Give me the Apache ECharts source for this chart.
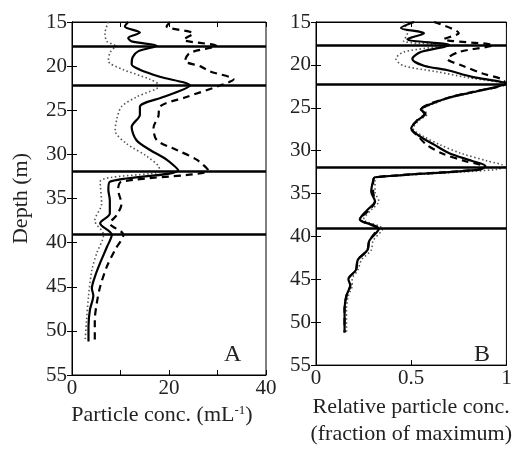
<!DOCTYPE html>
<html><head><meta charset="utf-8">
<script src="https://cdn.jsdelivr.net/npm/echarts@6/dist/echarts.min.js"></script>
<style>html,body{margin:0;padding:0;background:#fff}#c{width:515px;height:453px}</style>
</head><body><div id="c"></div>
<script>
// Boundary depths (horizontal lines)
const boundaryDepths = [17.7, 22.2, 31.9, 39.1];
const yTicks = [15, 20, 25, 30, 35, 40, 45, 50, 55];

// Panel A: absolute particle concentration (mL^-1)
const depthA_solid = [15,15.5,16.2,16.8,17.2,17.7,18.3,19.0,19.8,20.4,21.2,22.2,23.5,24.6,25.5,26.9,28.4,29.5,30.6,31.8,33.1,34.0,35.2,36.7,37.8,39.1,40.5,42.3,43.9,45.2,46.0,47.6,49.5,51.2];
const concA_solid  = [11.6,10.9,14.0,11.6,12.3,17.5,13.7,12.5,12.3,14.0,18.1,24.3,18.8,14.0,14.0,12.3,13.3,16.1,19.5,21.9,7.8,7.5,7.8,7.8,5.8,8.2,7.2,5.8,4.7,4.1,4.4,3.7,3.4,3.4];
const depthA_dash  = [15,15.5,16.3,17.0,17.7,18.5,19.4,20.0,20.6,21.5,22.2,23.5,24.6,25.7,27.0,28.4,29.5,30.6,31.8,33.1,34.0,35.6,36.9,37.8,39.1,40.8,42.7,45.0,46.9,48.8,51.1];
const concA_dash   = [20.2,19.5,25.0,23.0,29.8,24.3,23.3,26.4,28.5,33.3,30.5,23.6,18.1,17.8,16.8,17.5,21.6,25.7,28.1,10.2,9.5,10.2,9.2,7.8,10.6,8.9,7.2,5.8,5.1,4.7,4.7];
const depthA_dot   = [15,16.3,17.2,17.7,18.5,19.4,20.4,21.5,22.2,23.5,24.6,26.1,27.3,28.8,30.2,31.3,31.9,33.1,35.6,37.5,39.1,41.2,43.1,46.1,48.8,51.2];
const concA_dot    = [7.5,6.8,7.2,8.9,7.8,7.5,10.6,16.1,18.1,13.3,10.2,9.2,8.9,11.3,15.4,17.8,18.1,5.8,6.1,4.7,6.5,5.1,4.1,3.4,3.0,2.7];

// Panel B: relative concentration (fraction of maximum)
const depthB_solid = [15,15.7,16.3,17.0,17.7,18.5,19.3,20.1,20.6,21.4,22.2,23.1,23.8,24.6,25.2,25.7,26.5,27.4,28.4,29.3,30.3,31.2,31.8,32.2,33.1,33.5,34.8,35.9,36.9,38.0,39.1,40.5,41.6,42.7,43.9,45.0,45.7,46.9,48.4,51.2];
const relB_solid   = [0.515,0.446,0.567,0.48,0.70,0.55,0.506,0.567,0.686,0.82,0.995,0.84,0.70,0.60,0.55,0.575,0.53,0.50,0.55,0.62,0.70,0.82,0.89,0.86,0.31,0.30,0.29,0.31,0.27,0.23,0.33,0.28,0.27,0.22,0.21,0.17,0.18,0.16,0.15,0.15];
const depthB_dash  = [15,16.3,17.0,17.7,18.5,19.3,20.1,21.0,21.7,22.2,23.1,23.8,24.6,25.2,25.7,26.5,27.4,28.4,29.3,30.3,31.2,31.8,32.2,33.1,33.5,34.8,35.9,36.9,38.0,39.1,40.5,41.6,42.7,43.9,45.0,45.7,46.9,48.4,51.2];
const relB_dash    = [0.62,0.75,0.67,0.93,0.75,0.69,0.77,0.875,0.98,0.995,0.83,0.70,0.59,0.55,0.57,0.53,0.50,0.54,0.58,0.66,0.78,0.875,0.85,0.31,0.30,0.30,0.31,0.28,0.23,0.32,0.28,0.27,0.22,0.21,0.17,0.18,0.16,0.15,0.15];
const depthB_dot   = [15,16.3,17.2,17.7,18.5,19.3,20.1,20.8,21.5,22.2,23.1,23.8,24.6,25.2,25.7,26.5,27.4,28.4,29.3,30.3,31.2,31.8,32.2,33.1,33.5,34.8,35.9,36.9,38.0,39.1,40.5,41.6,42.7,43.9,45.0,45.7,46.9,48.4,51.2];
const relB_dot     = [0.46,0.48,0.46,0.67,0.46,0.42,0.46,0.635,0.80,0.98,0.85,0.71,0.61,0.56,0.585,0.54,0.51,0.57,0.65,0.76,0.90,0.99,0.95,0.32,0.31,0.31,0.33,0.29,0.25,0.35,0.30,0.29,0.24,0.22,0.19,0.19,0.17,0.16,0.16];

const FONT = 'Liberation Serif';
const pairs = (xs, ds) => xs.map((v, i) => [v, ds[i]]);

const tickStyle = { show: true, inside: true, length: 5, lineStyle: { color: '#000', width: 1 } };
const lineAxis = { show: true, lineStyle: { color: '#000', width: 1 } };

function xAxes(gi, max, interval, labelFmt, name) {
  return [
    { gridIndex: gi, type: 'value', position: 'bottom', min: 0, max: max, interval: interval,
      axisLine: lineAxis, axisTick: tickStyle, splitLine: { show: false },
      axisLabel: { fontFamily: FONT, fontSize: 21, color: '#222', margin: 3, formatter: labelFmt, showMaxLabel: true, showMinLabel: true },
      name: name.text, nameLocation: 'middle', nameGap: name.gap,
      nameTextStyle: name.style },
    { gridIndex: gi, type: 'value', position: 'top', min: 0, max: max, interval: interval,
      axisLine: lineAxis, axisTick: tickStyle, axisLabel: { show: false }, splitLine: { show: false } }
  ];
}
function yAxes(gi, withName) {
  const left = { gridIndex: gi, type: 'value', position: 'left', inverse: true, min: 15, max: 55, interval: 5,
    axisLine: lineAxis, axisTick: tickStyle, splitLine: { show: false },
    axisLabel: { fontFamily: FONT, fontSize: 21, color: '#222', margin: 5, showMinLabel: true, showMaxLabel: true } };
  if (withName) {
    left.name = 'Depth (m)'; left.nameLocation = 'middle'; left.nameGap = 40; left.nameRotate = 90;
    left.nameTextStyle = { fontFamily: FONT, fontSize: 22, color: '#222' };
  }
  const right = { gridIndex: gi, type: 'value', position: 'right', inverse: true, min: 15, max: 55, interval: 5,
    axisLine: lineAxis, axisTick: tickStyle, axisLabel: { show: false }, splitLine: { show: false } };
  return [left, right];
}

const markLines = {
  silent: true, symbol: ['none', 'none'], label: { show: false },
  lineStyle: { color: '#000', width: 2.5, type: 'solid' },
  emphasis: { disabled: true },
  data: boundaryDepths.map(d => ({ yAxis: d }))
};

function ser(xi, yi, data, style, ml) {
  const s = { type: 'line', xAxisIndex: xi, yAxisIndex: yi, data: data, showSymbol: false, symbol: 'none',
    smooth: 0.3, lineStyle: style, z: 3, animation: false };
  if (ml) s.markLine = ml;
  return s;
}

const solid = { color: '#000', width: 2.2, type: 'solid' };
const dashed = { color: '#000', width: 2.2, type: [7, 5] };
const dotted = { color: '#555', width: 1.6, type: [1.5, 2.5] };

const option = {
  animation: false,
  backgroundColor: '#fff',
  grid: [
    { left: 72, top: 22, width: 194, height: 353, show: true, borderColor: '#000', borderWidth: 1, backgroundColor: 'transparent' },
    { left: 316, top: 22, width: 195, height: 353, show: true, borderColor: '#000', borderWidth: 1, backgroundColor: 'transparent' }
  ],
  xAxis: [
    ...xAxes(0, 40, 10, v => (v % 20 === 0 ? String(v) : ''), {
      text: '{n|Particle conc. (mL}{s|-1}{n|)}', gap: 24,
      style: { padding: [0, 14, 0, 0], rich: {
        n: { fontFamily: FONT, fontSize: 22, color: '#222' },
        s: { fontFamily: FONT, fontSize: 13, color: '#222', padding: [0, 0, 10, 0] } } }
    }),
    ...xAxes(1, 1, 0.5, v => String(v), {
      text: 'Relative particle conc.\n(fraction of maximum)', gap: 24,
      style: { fontFamily: FONT, fontSize: 22, color: '#222', lineHeight: 27 }
    })
  ],
  yAxis: [...yAxes(0, true), ...yAxes(1, false)],
  graphic: [
    { type: 'text', left: 224, top: 343, style: { text: 'A', fontFamily: FONT, fontSize: 24, fill: '#222' } },
    { type: 'text', left: 474, top: 343, style: { text: 'B', fontFamily: FONT, fontSize: 24, fill: '#222' } }
  ],
  series: [
    ser(0, 0, pairs(concA_dot, depthA_dot), dotted),
    ser(0, 0, pairs(concA_dash, depthA_dash), dashed),
    ser(0, 0, pairs(concA_solid, depthA_solid), solid, markLines),
    ser(2, 2, pairs(relB_dot, depthB_dot), dotted),
    ser(2, 2, pairs(relB_dash, depthB_dash), dashed),
    ser(2, 2, pairs(relB_solid, depthB_solid), solid, markLines)
  ]
};

const chart = echarts.init(document.getElementById('c'), null, { renderer: 'canvas' });
chart.setOption(option);
</script></body></html>
